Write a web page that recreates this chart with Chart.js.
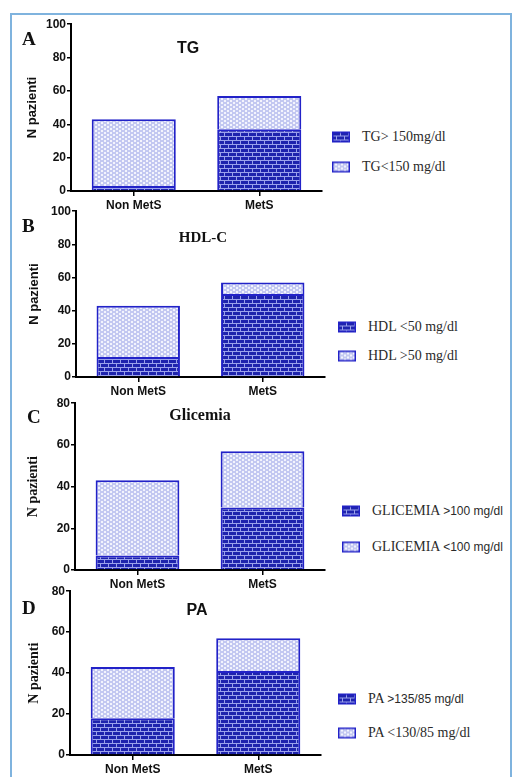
<!DOCTYPE html>
<html>
<head>
<meta charset="utf-8">
<script src="https://cdn.jsdelivr.net/npm/chart.js@4.4.1/dist/chart.umd.min.js"></script>
<style>
body{margin:0;background:#fff;width:515px;height:777px;overflow:hidden;position:relative;font-family:"Liberation Sans",Arial,sans-serif}
#frame{position:absolute;left:10px;top:13px;width:502px;height:800px;border:2px solid #7fb3de;box-sizing:border-box}
.wrap{position:absolute;left:20px}
.lett{position:absolute;font:bold 19px "Liberation Serif",serif;color:#111;line-height:1}
.ttl{position:absolute;transform:translate(-50%,-50%);color:#111;white-space:nowrap;line-height:1}
.leg{position:absolute;transform:translateY(-50%);font:14px "Liberation Serif",serif;color:#2a2a2a;white-space:nowrap;line-height:1}
.leg .s{font-family:"Liberation Sans",Arial,sans-serif;font-size:12px}
.sw{position:absolute;transform:translateY(-50%)}
</style>
</head>
<body>
<div id="frame"></div>

<script>
// dati (N pazienti)
const categorie = ['Non MetS', 'MetS'];

const tgSopra = [3, 37];      // TG> 150mg/dl
const tgSotto = [40, 20];     // TG<150 mg/dl

const hdlSotto = [12, 50];    // HDL <50
const hdlSopra = [31, 7];     // HDL >50

const gliSopra = [7, 30];     // GLICEMIA >100
const gliSotto = [36, 27];    // GLICEMIA <100

const paSopra = [18, 41];     // PA >135/85
const paSotto = [25, 16];     // PA <130/85

const yMaxA = 100, yMaxB = 100, yMaxC = 80, yMaxD = 80;
const passoY = 20;

// motivi di riempimento
function mattoni() {
    const c = document.createElement('canvas');
    c.width = 8; c.height = 8;
    const g = c.getContext('2d');
    g.fillStyle = '#1e23ad';
    g.fillRect(0, 0, 8, 8);
    g.fillStyle = '#9aa1ec';
    g.fillRect(0, 0, 8, 1);
    g.fillRect(0, 4, 8, 1);
    g.fillRect(0, 0, 1, 4);
    g.fillRect(4, 4, 1, 4);
    return c;
}
function puntini() {
    const c = document.createElement('canvas');
    c.width = 6; c.height = 4;
    const g = c.getContext('2d');
    g.fillStyle = '#c3c8f1';
    g.fillRect(0, 0, 6, 4);
    g.fillStyle = '#f3f4fd';
    g.fillRect(0, 0, 2, 2);
    g.fillRect(3, 2, 2, 2);
    return c;
}
const tileMattoni = mattoni();
const tilePuntini = puntini();
const ctx0 = document.createElement('canvas').getContext('2d');
const patMattoni = ctx0.createPattern(tileMattoni, 'repeat');
const patPuntini = ctx0.createPattern(tilePuntini, 'repeat');

const bordoBlu = '#2222c8';

function pannello(p) {
    // p: L,T,R,B bordo area grafico; padL per il titolo asse y
    const wrap = document.createElement('div');
    wrap.className = 'wrap';
    wrap.style.top = (p.T - 8) + 'px';
    wrap.style.width = (p.R - 20 + 4) + 'px';
    wrap.style.height = (p.B - p.T + 8 + 22) + 'px';
    const cv = document.createElement('canvas');
    wrap.appendChild(cv);
    document.body.appendChild(wrap);

    new Chart(cv.getContext('2d'), {
        type: 'bar',
        data: {
            labels: categorie,
            datasets: [{
                label: p.nomi[0],
                data: p.basso,
                backgroundColor: patMattoni,
                borderColor: bordoBlu,
                borderWidth: 2
            }, {
                label: p.nomi[1],
                data: p.alto,
                backgroundColor: patPuntini,
                borderColor: bordoBlu,
                borderWidth: 2
            }]
        },
        options: {
            responsive: true,
            maintainAspectRatio: false,
            animation: false,
            layout: { padding: { left: p.padL, top: 8, right: 4, bottom: 0 } },
            plugins: { legend: { display: false }, tooltip: { enabled: false } },
            datasets: { bar: { categoryPercentage: 1, barPercentage: 0.67 } },
            scales: {
                x: {
                    stacked: true,
                    grid: { display: true, drawOnChartArea: false, offset: false, tickLength: 5, color: '#000', lineWidth: 1.5 },
                    border: { color: '#000', width: 2 },
                    ticks: { color: '#111', font: { family: 'Liberation Sans', size: 12, weight: 'bold' }, padding: 2 },
                    afterFit: s => { s.height = 22; }
                },
                y: {
                    stacked: true,
                    min: 0,
                    max: p.max,
                    grid: { display: true, drawOnChartArea: false, tickLength: 4, color: '#000', lineWidth: 1.5 },
                    border: { color: '#000', width: 2 },
                    ticks: { stepSize: passoY, color: '#111', font: { family: 'Liberation Sans', size: 12, weight: 'bold' }, padding: 1 },
                    title: { display: true, text: 'N pazienti', color: '#111', font: p.fontY, padding: { top: 0, bottom: 0 } },
                    afterFit: s => { s.width = p.L - 20 - p.padL; }
                }
            }
        }
    });

    // lettera del pannello
    const l = document.createElement('div');
    l.className = 'lett';
    l.textContent = p.lettera;
    l.style.left = p.lx + 'px';
    l.style.top = p.ly + 'px';
    document.body.appendChild(l);

    // titolo
    const t = document.createElement('div');
    t.className = 'ttl';
    t.textContent = p.titolo;
    t.style.left = p.tx + 'px';
    t.style.top = p.ty + 'px';
    t.style.font = p.fontT;
    document.body.appendChild(t);

    // legenda
    [tileMattoni, tilePuntini].forEach((tile, i) => {
        const sw = document.createElement('canvas');
        sw.className = 'sw';
        sw.width = 18; sw.height = 11;
        const g = sw.getContext('2d');
        g.fillStyle = g.createPattern(tile, 'repeat');
        g.fillRect(0, 0, 18, 11);
        g.strokeStyle = bordoBlu;
        g.lineWidth = 1.5;
        g.strokeRect(0.75, 0.75, 16.5, 9.5);
        sw.style.left = p.gx + 'px';
        sw.style.top = p.gy[i] + 'px';
        document.body.appendChild(sw);

        const tx = document.createElement('div');
        tx.className = 'leg';
        tx.innerHTML = p.leg[i];
        tx.style.left = (p.gx + 30) + 'px';
        tx.style.top = p.gy[i] + 'px';
        document.body.appendChild(tx);
    });
}

const sansY = { family: 'Liberation Sans', size: 13, weight: 'bold' };
const serifY = { family: 'Liberation Serif', size: 14, weight: 'bold' };

pannello({
    lettera: 'A', lx: 22, ly: 29, titolo: 'TG', tx: 188, ty: 48, fontT: 'bold 16px "Liberation Sans"',
    L: 71, T: 24, R: 322, B: 191, padL: 5, fontY: sansY, max: yMaxA,
    basso: tgSopra, alto: tgSotto, nomi: ['TG> 150mg/dl', 'TG<150 mg/dl'],
    leg: ['TG&gt; 150mg/dl', 'TG&lt;150 mg/dl'], gx: 332, gy: [137, 167]
});
pannello({
    lettera: 'B', lx: 22, ly: 216, titolo: 'HDL-C', tx: 203, ty: 237, fontT: 'bold 15px "Liberation Serif"',
    L: 76, T: 211, R: 325, B: 377, padL: 7, fontY: sansY, max: yMaxB,
    basso: hdlSotto, alto: hdlSopra, nomi: ['HDL <50 mg/dl', 'HDL >50 mg/dl'],
    leg: ['HDL &lt;50 mg/dl', 'HDL &gt;50 mg/dl'], gx: 338, gy: [327, 356]
});
pannello({
    lettera: 'C', lx: 27, ly: 407, titolo: 'Glicemia', tx: 200, ty: 415, fontT: 'bold 16px "Liberation Serif"',
    L: 75, T: 403, R: 325, B: 570, padL: 5, fontY: serifY, max: yMaxC,
    basso: gliSopra, alto: gliSotto, nomi: ['GLICEMIA >100 mg/dl', 'GLICEMIA <100 mg/dl'],
    leg: ['GLICEMIA <span class="s">&gt;100 mg/dl</span>', 'GLICEMIA <span class="s">&lt;100 mg/dl</span>'], gx: 342, gy: [511, 547]
});
pannello({
    lettera: 'D', lx: 22, ly: 598, titolo: 'PA', tx: 197, ty: 610, fontT: 'bold 16px "Liberation Sans"',
    L: 70, T: 591, R: 321, B: 755, padL: 6, fontY: serifY, max: yMaxD,
    basso: paSopra, alto: paSotto, nomi: ['PA >135/85 mg/dl', 'PA <130/85 mg/dl'],
    leg: ['PA <span class="s">&gt;135/85 mg/dl</span>', 'PA &lt;130/85 mg/dl'], gx: 338, gy: [699, 733]
});
</script>
</body>
</html>
